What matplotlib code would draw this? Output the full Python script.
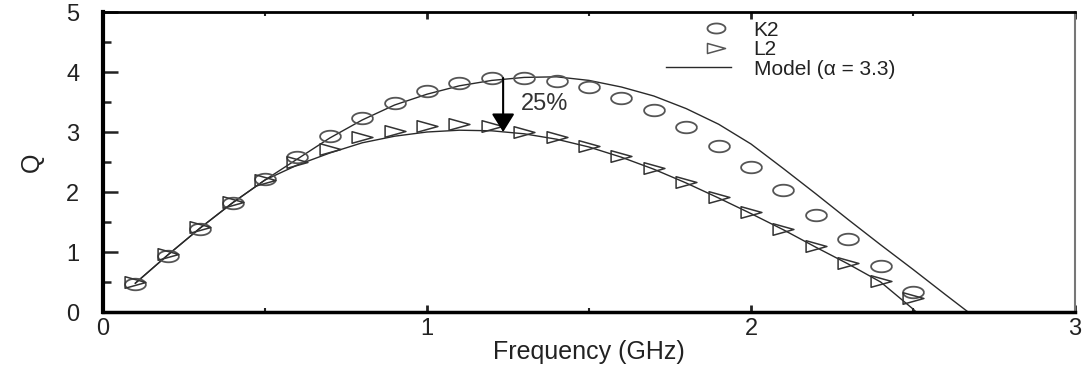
import matplotlib
matplotlib.use('Agg')
import matplotlib.pyplot as plt
import numpy as np
from matplotlib.path import Path
from matplotlib.legend_handler import HandlerLine2D
from matplotlib.lines import Line2D

plt.rcParams['font.family'] = ['Liberation Sans', 'DejaVu Sans']

freq = [0.1, 0.2, 0.3, 0.4, 0.5, 0.6, 0.7, 0.8, 0.9, 1.0, 1.1, 1.2, 1.3,
        1.4, 1.5, 1.6, 1.7, 1.8, 1.9, 2.0, 2.1, 2.2, 2.3, 2.4, 2.5]
k2 = [0.47, 0.93, 1.38, 1.82, 2.22, 2.58, 2.93, 3.23, 3.48, 3.68, 3.82, 3.9, 3.9,
      3.85, 3.75, 3.57, 3.37, 3.08, 2.77, 2.42, 2.03, 1.62, 1.22, 0.77, 0.33]
l2 = [0.5, 0.97, 1.42, 1.83, 2.2, 2.5, 2.72, 2.92, 3.02, 3.1, 3.13, 3.1, 3.0,
      2.92, 2.77, 2.6, 2.4, 2.17, 1.92, 1.67, 1.39, 1.1, 0.82, 0.52, 0.23]

# model curves
model_f_up = [0.1, 0.2, 0.3, 0.4, 0.5, 0.6, 0.7, 0.8, 0.9, 1.0, 1.1, 1.2, 1.3, 1.4,
              1.5, 1.6, 1.7, 1.8, 1.9, 2.0, 2.1, 2.2, 2.3, 2.4, 2.5, 2.6, 2.67]
model_q_up = [0.48, 0.95, 1.4, 1.82, 2.2, 2.55, 2.9, 3.2, 3.45, 3.63, 3.77, 3.86, 3.91, 3.92,
              3.86, 3.75, 3.6, 3.39, 3.13, 2.8, 2.39, 1.97, 1.54, 1.12, 0.71, 0.29, 0.0]
model_f_lo = [0.1, 0.2, 0.3, 0.4, 0.5, 0.6, 0.7, 0.8, 0.9, 1.0, 1.1, 1.2, 1.3, 1.4,
              1.5, 1.6, 1.7, 1.8, 1.9, 2.0, 2.1, 2.2, 2.3, 2.4, 2.5, 2.51]
model_q_lo = [0.48, 0.95, 1.4, 1.82, 2.2, 2.45, 2.65, 2.82, 2.93, 3.0, 3.03, 3.02, 2.97, 2.88,
              2.75, 2.58, 2.38, 2.15, 1.9, 1.64, 1.37, 1.08, 0.8, 0.5, 0.05, 0.0]

peak_f = 1.235
peak_k2 = 3.9
peak_l2 = 3.0

# the original is stretched sideways, so markers are flat
t = np.linspace(0, 2 * np.pi, 40)
ellipse = Path(np.column_stack([1.8 * np.cos(t), np.sin(t)]))
tri = Path([(-1.8, -1.0), (1.8, 0.0), (-1.8, 1.0), (-1.8, -1.0)],
           [Path.MOVETO, Path.LINETO, Path.LINETO, Path.CLOSEPOLY])


class RightMarker(HandlerLine2D):
    # put the legend marker near the right end of the handle box
    def get_xdata(self, legend, xdescent, ydescent, width, height, fontsize):
        m = -xdescent + width - 0.7 * fontsize
        return [m - 1, m + 1], [m]


fig = plt.figure(figsize=(10.86, 3.65), dpi=100)
ax = fig.add_axes([0.0948, 0.1452, 0.8951, 0.8219])

ax.plot(model_f_up, model_q_up, color='#2a2a2a', lw=1.0)
ax.plot(model_f_lo, model_q_lo, color='#2a2a2a', lw=1.0)
ax.plot(freq, k2, linestyle='none', marker=ellipse, ms=15, mfc='none',
        mec='#555555', mew=1.3)
ax.plot(freq, l2, linestyle='none', marker=tri, ms=15, mfc='none',
        mec='#333333', mew=1.1)

ax.annotate('', xy=(peak_f, peak_l2), xytext=(peak_f, peak_k2),
            arrowprops=dict(arrowstyle='-|>,head_width=0.25,head_length=0.4',
                            color='black', lw=1.5, mutation_scale=28,
                            shrinkA=0, shrinkB=0))
ax.text(peak_f + 0.055, 3.47, '25%', fontsize=17, color='#333333', va='center')

ax.set_xlim(0, 3)
ax.set_ylim(0, 5)
ax.set_xticks([0, 1, 2, 3])
ax.set_yticks([0, 1, 2, 3, 4, 5])
ax.set_xticks([0.5, 1.5, 2.5], minor=True)
ax.set_yticks([0.5, 1.5, 2.5, 3.5, 4.5], minor=True)
ax.tick_params(which='both', direction='in', top=True, right=False,
               labelsize=17, colors='#222222')
ax.tick_params(axis='y', which='major', length=11, width=1.8, pad=17)
ax.tick_params(axis='y', which='minor', length=6, width=1.8)
ax.tick_params(axis='x', which='major', length=5, width=2, pad=4)
ax.tick_params(axis='x', which='minor', length=3, width=1.5)
ax.spines['left'].set_linewidth(3)
ax.spines['bottom'].set_linewidth(2.5)
ax.spines['top'].set_linewidth(2)
ax.spines['right'].set_linewidth(1.5)
ax.spines['right'].set_color('#777777')

ax.set_xlabel('Frequency (GHz)', fontsize=18, color='#222222', labelpad=0)
ax.set_ylabel('Q', fontsize=18, color='#222222', labelpad=16)

h_k2 = Line2D([], [], linestyle='none', marker=ellipse, ms=13, mfc='none', mec='#555555', mew=1.3)
h_l2 = Line2D([], [], linestyle='none', marker=tri, ms=13, mfc='none', mec='#555555', mew=1.1)
h_model = Line2D([], [], color='#2a2a2a', lw=1.0)
labels = ['K2', 'L2', 'Model (\u03b1 = 3.3)']
ax.legend([h_k2, h_l2, h_model], labels, loc='upper left', bbox_to_anchor=(0.575, 0.985),
          frameon=False, fontsize=15, handlelength=3.1, handletextpad=1.1,
          labelspacing=0.02, borderpad=0.2, borderaxespad=0, numpoints=1,
          handler_map={h_k2: RightMarker(), h_l2: RightMarker()},
          labelcolor='#222222')

fig.savefig('out.png', dpi=100)
